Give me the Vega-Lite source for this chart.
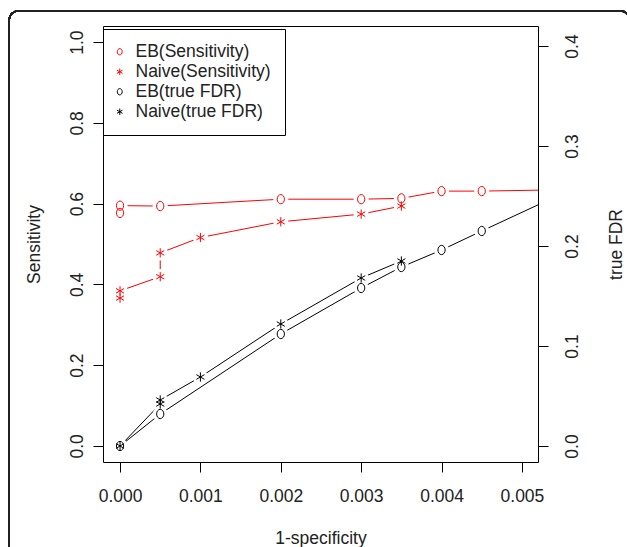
{
  "$schema": "https://vega.github.io/schema/vega-lite/v6.json",
  "width": 435,
  "height": 436,
  "autosize": {"type": "none"},
  "padding": {"left": 103, "top": 26, "right": 89, "bottom": 85},
  "background": "white",
  "config": {
    "font": "Liberation Sans",
    "view": {"stroke": "black", "strokeWidth": 1},
    "axis": {"grid": false, "domain": false, "tickColor": "black", "tickSize": 10, "labelFontSize": 17.5, "titleFontSize": 17.5, "titleFontWeight": "normal", "labelColor": "#222", "titleColor": "#222", "labelFont": "Liberation Sans", "titleFont": "Liberation Sans"},
    "legend": {"orient": "none", "legendX": 0, "legendY": 3, "title": null, "padding": 14, "rowPadding": 1.0, "symbolOffset": -6, "labelOffset": 7, "symbolSize": 40, "strokeColor": "black", "fillColor": "white", "labelFontSize": 17.5, "labelFont": "Liberation Sans", "labelColor": "#222", "symbolStrokeWidth": 1, "cornerRadius": 0}
  },
  "data": {
    "values": [
      {"s": "EB(Sensitivity)", "m": "sens", "x": 0, "y": 0.577, "o": 1},
      {"s": "EB(Sensitivity)", "m": "sens", "x": 0, "y": 0.595, "o": 2},
      {"s": "EB(Sensitivity)", "m": "sens", "x": 0.0005, "y": 0.594, "o": 3},
      {"s": "EB(Sensitivity)", "m": "sens", "x": 0.002, "y": 0.611, "o": 4},
      {"s": "EB(Sensitivity)", "m": "sens", "x": 0.003, "y": 0.611, "o": 5},
      {"s": "EB(Sensitivity)", "m": "sens", "x": 0.0035, "y": 0.613, "o": 6},
      {"s": "EB(Sensitivity)", "m": "sens", "x": 0.004, "y": 0.631, "o": 7},
      {"s": "EB(Sensitivity)", "m": "sens", "x": 0.0045, "y": 0.631, "o": 8},
      {"s": "EB(Sensitivity)", "m": "sens", "x": 0.006, "y": 0.636, "o": 9},
      {"s": "Naive(Sensitivity)", "m": "sens", "x": 0, "y": 0.366, "o": 1},
      {"s": "Naive(Sensitivity)", "m": "sens", "x": 0, "y": 0.384, "o": 2},
      {"s": "Naive(Sensitivity)", "m": "sens", "x": 0.0005, "y": 0.419, "o": 3},
      {"s": "Naive(Sensitivity)", "m": "sens", "x": 0.0005, "y": 0.478, "o": 4},
      {"s": "Naive(Sensitivity)", "m": "sens", "x": 0.001, "y": 0.516, "o": 5},
      {"s": "Naive(Sensitivity)", "m": "sens", "x": 0.002, "y": 0.555, "o": 6},
      {"s": "Naive(Sensitivity)", "m": "sens", "x": 0.003, "y": 0.574, "o": 7},
      {"s": "Naive(Sensitivity)", "m": "sens", "x": 0.0035, "y": 0.594, "o": 8},
      {"s": "EB(true FDR)", "m": "fdr", "x": 0, "y": 0, "o": 1},
      {"s": "EB(true FDR)", "m": "fdr", "x": 0.0005, "y": 0.032, "o": 2},
      {"s": "EB(true FDR)", "m": "fdr", "x": 0.002, "y": 0.112, "o": 3},
      {"s": "EB(true FDR)", "m": "fdr", "x": 0.003, "y": 0.158, "o": 4},
      {"s": "EB(true FDR)", "m": "fdr", "x": 0.0035, "y": 0.179, "o": 5},
      {"s": "EB(true FDR)", "m": "fdr", "x": 0.004, "y": 0.196, "o": 6},
      {"s": "EB(true FDR)", "m": "fdr", "x": 0.0045, "y": 0.215, "o": 7},
      {"s": "EB(true FDR)", "m": "fdr", "x": 0.006, "y": 0.271, "o": 8},
      {"s": "Naive(true FDR)", "m": "fdr", "x": 0, "y": 0, "o": 1},
      {"s": "Naive(true FDR)", "m": "fdr", "x": 0.0005, "y": 0.042, "o": 2},
      {"s": "Naive(true FDR)", "m": "fdr", "x": 0.0005, "y": 0.046, "o": 3},
      {"s": "Naive(true FDR)", "m": "fdr", "x": 0.001, "y": 0.069, "o": 4},
      {"s": "Naive(true FDR)", "m": "fdr", "x": 0.002, "y": 0.122, "o": 5},
      {"s": "Naive(true FDR)", "m": "fdr", "x": 0.003, "y": 0.168, "o": 6},
      {"s": "Naive(true FDR)", "m": "fdr", "x": 0.0035, "y": 0.185, "o": 7}
    ]
  },
  "layer": [
    {
      "transform": [{"filter": "datum.m === 'sens'"}],
      "encoding": {
        "x": {"field": "x", "type": "quantitative", "scale": {"domain": [-0.000212, 0.0052], "nice": false, "zero": false},
          "axis": {"values": [0, 0.001, 0.002, 0.003, 0.004, 0.005], "format": ".3f", "title": "1-specificity", "labelPadding": 15, "labelFlush": false, "titleY": 81, "titleBaseline": "alphabetic"}},
        "y": {"field": "y", "type": "quantitative", "scale": {"domain": [-0.04, 1.04], "nice": false, "zero": false},
          "axis": {"orient": "left", "values": [0, 0.2, 0.4, 0.6, 0.8, 1.0], "format": ".1f", "title": "Sensitivity", "labelAngle": 270, "labelAlign": "center", "labelBaseline": "alphabetic", "labelPadding": 11, "labelFlush": false, "titleAngle": 270, "titleBaseline": "alphabetic", "titleAlign": "center", "titleX": -63.5, "titleY": 218}}
      },
      "layer": [
        {
          "mark": {"type": "rect", "clip": false, "fill": "white", "fillOpacity": 0, "stroke": "#222", "strokeWidth": 1.5, "strokeOpacity": 1, "cornerRadius": 9},
          "encoding": {
            "x": {"datum": -0.00138, "type": "quantitative"},
            "x2": {"datum": 0.00634},
            "y": {"datum": 1.0772, "type": "quantitative"},
            "y2": {"datum": -0.3075},
            "detail": {"field": "m"}
          }
        },
        {"mark": {"type": "line", "color": "#ff0000", "strokeWidth": 1, "clip": true},
          "encoding": {"detail": {"field": "s"}, "order": {"field": "o", "type": "quantitative"}}},
        {"mark": {"type": "point", "shape": "circle", "filled": true, "color": "white", "opacity": 1, "size": 230, "strokeWidth": 0, "clip": true}},
        {"mark": {"type": "point", "filled": false, "strokeWidth": 1, "size": 86, "opacity": 1, "clip": true},
          "encoding": {
            "color": {"field": "s", "type": "nominal",
              "scale": {"domain": ["EB(Sensitivity)", "Naive(Sensitivity)", "EB(true FDR)", "Naive(true FDR)"], "range": ["#ff0000", "#ff0000", "#000000", "#000000"]}},
            "shape": {"field": "s", "type": "nominal",
              "scale": {"domain": ["EB(Sensitivity)", "Naive(Sensitivity)", "EB(true FDR)", "Naive(true FDR)"],
                "range": ["M0,-1A0.78,1,0,1,1,0,1A0.78,1,0,1,1,0,-1Z", "M0,-1L0,1M-0.87,-0.5L0.87,0.5M-0.87,0.5L0.87,-0.5", "M0,-1A0.78,1,0,1,1,0,1A0.78,1,0,1,1,0,-1Z", "M0,-1L0,1M-0.87,-0.5L0.87,0.5M-0.87,0.5L0.87,-0.5"]}}
          }}
      ]
    },
    {
      "transform": [{"filter": "datum.m === 'fdr'"}],
      "encoding": {
        "x": {"field": "x", "type": "quantitative", "scale": {"domain": [-0.000212, 0.0052], "nice": false, "zero": false}},
        "y": {"field": "y", "type": "quantitative", "scale": {"domain": [-0.016, 0.42], "nice": false, "zero": false},
          "axis": {"orient": "right", "values": [0, 0.1, 0.2, 0.3, 0.4], "format": ".1f", "title": "true FDR", "labelAngle": 270, "labelAlign": "center", "labelBaseline": "top", "labelPadding": 15, "labelFlush": false, "titleAngle": 270, "titleBaseline": "alphabetic", "titleAlign": "center", "titleX": 83, "titleY": 218}}
      },
      "layer": [
        {"mark": {"type": "line", "color": "#000000", "strokeWidth": 1, "clip": true},
          "encoding": {"detail": {"field": "s"}, "order": {"field": "o", "type": "quantitative"}}},
        {"mark": {"type": "point", "shape": "circle", "filled": true, "color": "white", "opacity": 1, "size": 230, "strokeWidth": 0, "clip": true}},
        {"mark": {"type": "point", "filled": false, "strokeWidth": 1, "size": 86, "opacity": 1, "clip": true},
          "encoding": {
            "color": {"field": "s", "type": "nominal",
              "scale": {"domain": ["EB(Sensitivity)", "Naive(Sensitivity)", "EB(true FDR)", "Naive(true FDR)"], "range": ["#ff0000", "#ff0000", "#000000", "#000000"]}},
            "shape": {"field": "s", "type": "nominal",
              "scale": {"domain": ["EB(Sensitivity)", "Naive(Sensitivity)", "EB(true FDR)", "Naive(true FDR)"],
                "range": ["M0,-1A0.78,1,0,1,1,0,1A0.78,1,0,1,1,0,-1Z", "M0,-1L0,1M-0.87,-0.5L0.87,0.5M-0.87,0.5L0.87,-0.5", "M0,-1A0.78,1,0,1,1,0,1A0.78,1,0,1,1,0,-1Z", "M0,-1L0,1M-0.87,-0.5L0.87,0.5M-0.87,0.5L0.87,-0.5"]}}
          }}
      ]
    }
  ],
  "resolve": {"scale": {"y": "independent"}}
}
